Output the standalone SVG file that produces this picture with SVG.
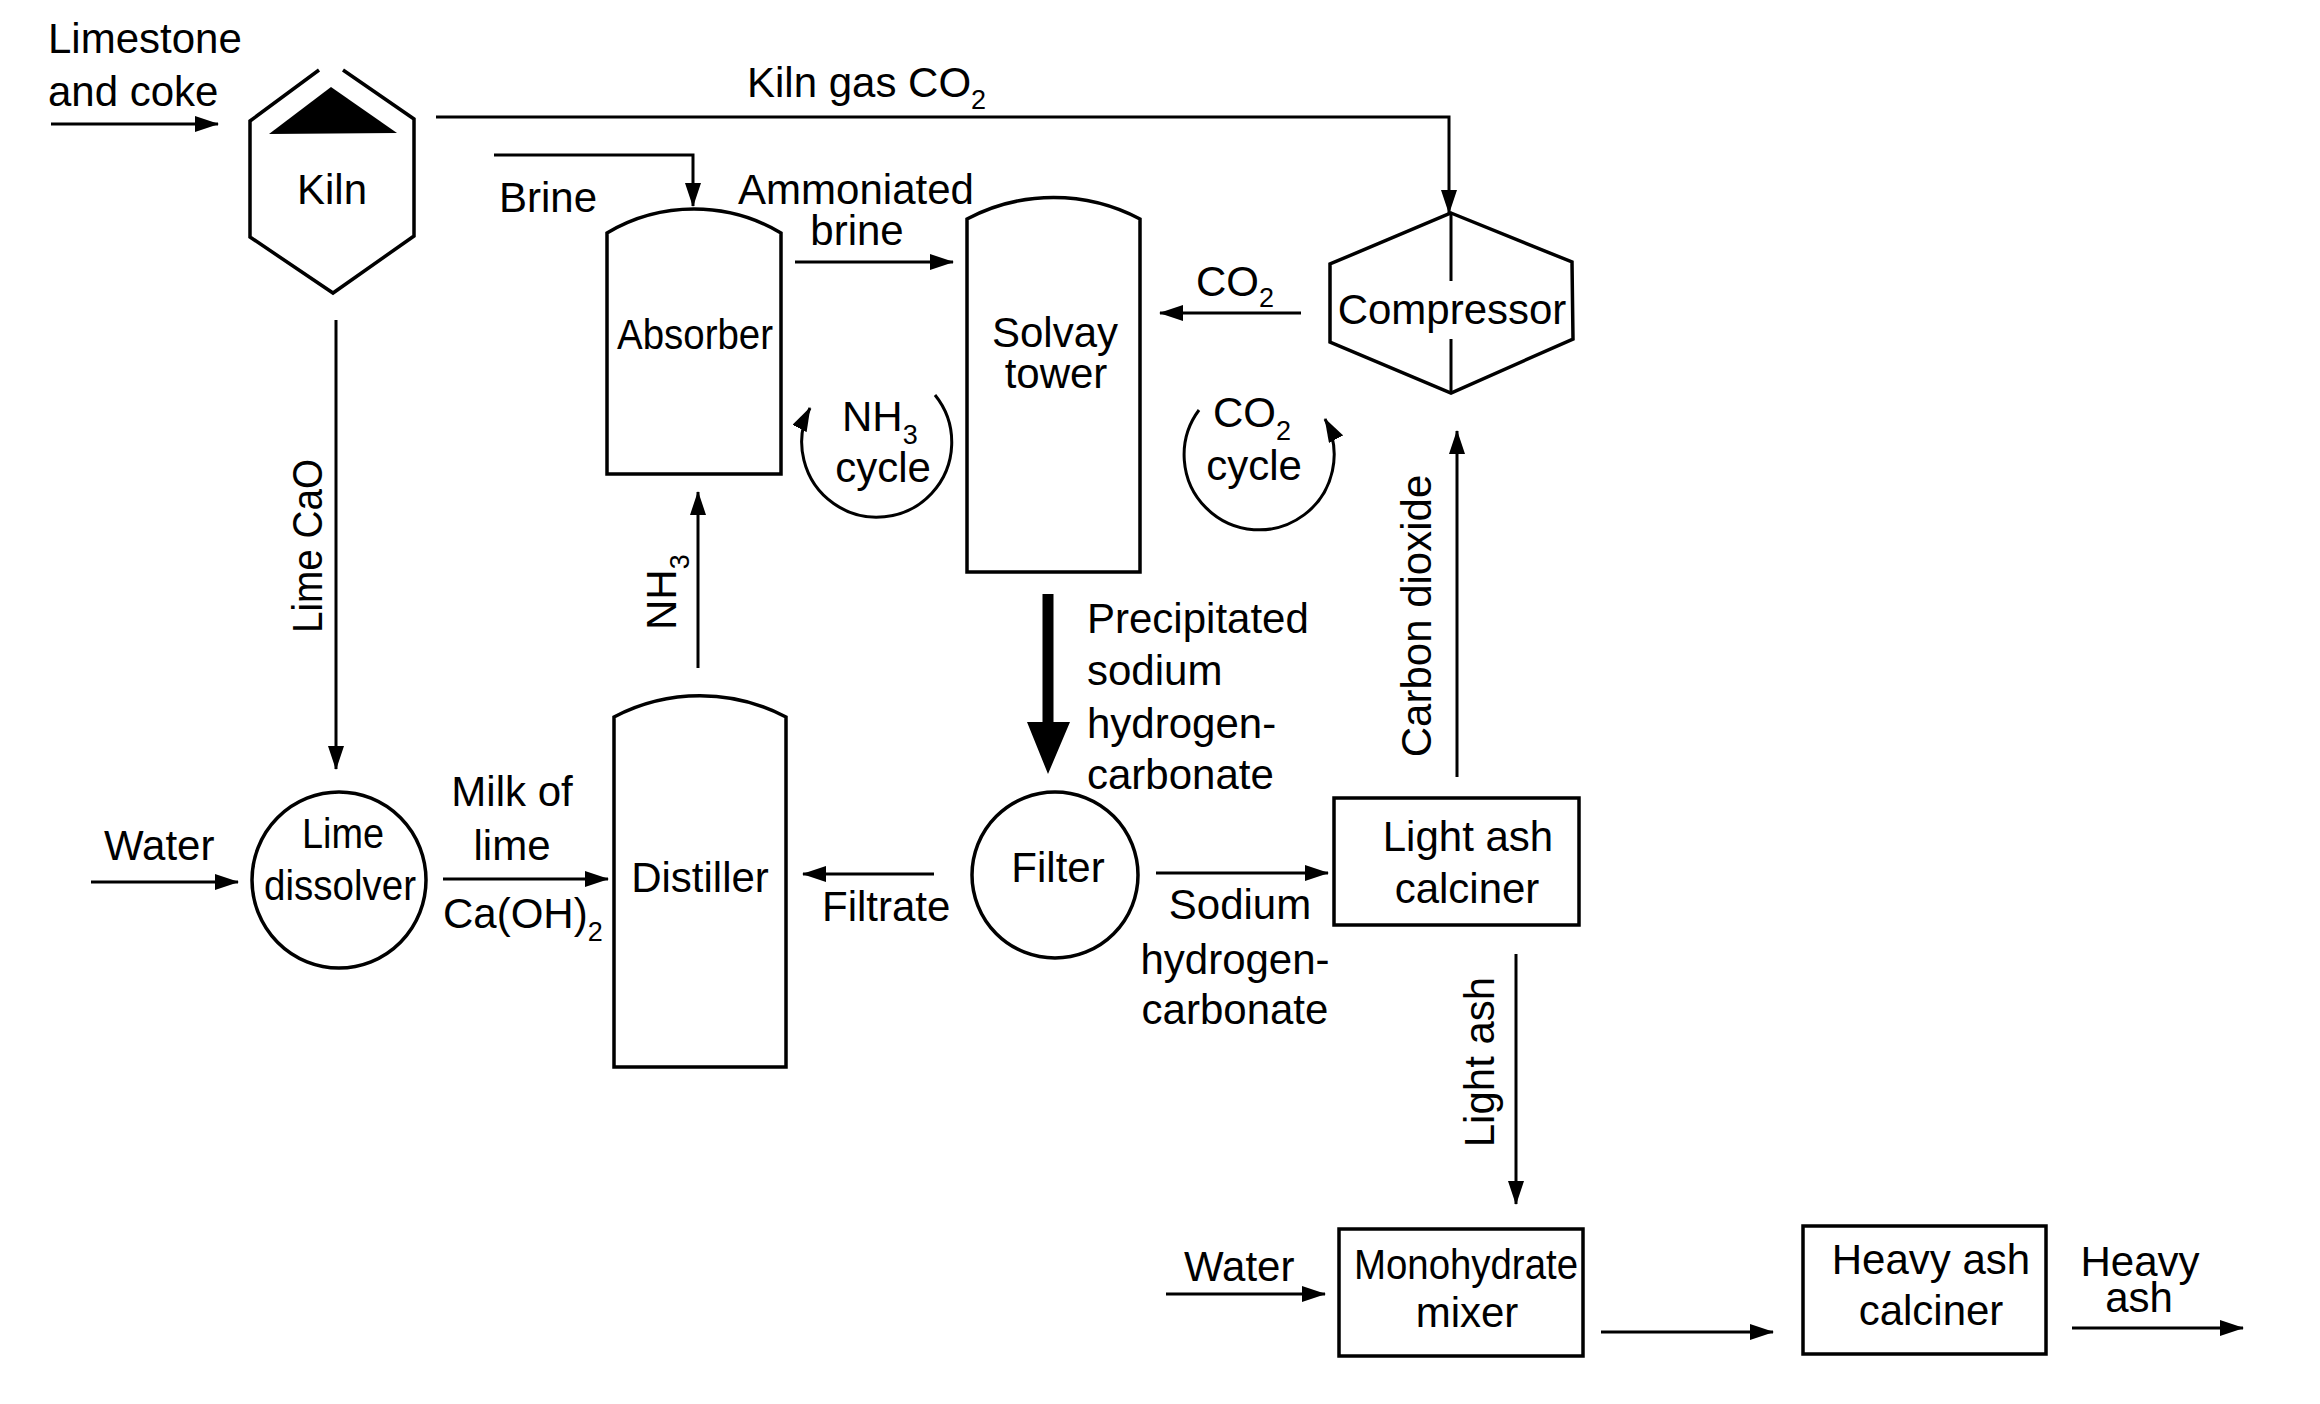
<svg xmlns="http://www.w3.org/2000/svg" width="2320" height="1404" viewBox="0 0 2320 1404">
<style>
text{font-family:"Liberation Sans",Arial,sans-serif;font-size:42px;fill:#000}
.m{text-anchor:middle}
.node{fill:#fff;stroke:#000;stroke-width:3.5;stroke-linejoin:miter}
.ln{fill:none;stroke:#000;stroke-width:3}
.sub{font-size:27px}
</style>
<defs>
<marker id="ah" markerUnits="userSpaceOnUse" markerWidth="24" markerHeight="16" refX="23" refY="8" orient="auto">
<path d="M0,0 L24,8 L0,16 Z" fill="#000"/>
</marker>
</defs>
<rect width="2320" height="1404" fill="#fff"/>

<g id="kiln">
<path class="node" d="M319,70 L250,121 L250,237 L333,293 L414,236 L414,119 L343,70"/>
<polygon points="331,87 269,134 397,133" fill="#000"/>
<text class="m" x="332" y="204">Kiln</text>
</g>

<g id="absorber">
<path class="node" d="M607,474 L607,233 A170,170 0 0 1 781,233 L781,474 Z"/>
<text class="m" x="695" y="349" textLength="156" lengthAdjust="spacingAndGlyphs">Absorber</text>
</g>

<g id="solvay-tower">
<path class="node" d="M967,572 L967,219 A185,185 0 0 1 1140,219 L1140,572 Z"/>
<text class="m" x="1055" y="347">Solvay</text>
<text class="m" x="1056" y="388">tower</text>
</g>

<g id="compressor">
<polygon class="node" points="1451,213 1572,262 1573,339 1451,393 1330,342 1330,264"/>
<path class="ln" d="M1451,213 V281 M1451,339 V393"/>
<text class="m" x="1452" y="324">Compressor</text>
</g>

<g id="lime-dissolver">
<ellipse class="node" cx="339" cy="880" rx="87" ry="88"/>
<text class="m" x="343" y="848" textLength="82" lengthAdjust="spacingAndGlyphs">Lime</text>
<text class="m" x="340" y="900" textLength="152" lengthAdjust="spacingAndGlyphs">dissolver</text>
</g>

<g id="distiller">
<path class="node" d="M614,1067 L614,717 A185,185 0 0 1 786,717 L786,1067 Z"/>
<text class="m" x="700" y="892">Distiller</text>
</g>

<g id="filter">
<circle class="node" cx="1055" cy="875" r="83"/>
<text class="m" x="1058" y="882">Filter</text>
</g>

<g id="light-ash-calciner">
<rect class="node" x="1334" y="798" width="245" height="127"/>
<text class="m" x="1468" y="851">Light ash</text>
<text class="m" x="1467" y="903">calciner</text>
</g>

<g id="monohydrate-mixer">
<rect class="node" x="1339" y="1229" width="244" height="127"/>
<text class="m" x="1466" y="1279" textLength="224" lengthAdjust="spacingAndGlyphs">Monohydrate</text>
<text class="m" x="1467" y="1327">mixer</text>
</g>

<g id="heavy-ash-calciner">
<rect class="node" x="1803" y="1226" width="243" height="128"/>
<text class="m" x="1931" y="1274">Heavy ash</text>
<text class="m" x="1931" y="1325">calciner</text>
</g>

<g id="connectors">
<path class="ln" marker-end="url(#ah)" d="M51,124 H218"/>
<path class="ln" marker-end="url(#ah)" d="M436,117 H1449 V213"/>
<path class="ln" marker-end="url(#ah)" d="M494,155 H693 V206"/>
<path class="ln" marker-end="url(#ah)" d="M795,262 H953"/>
<path class="ln" marker-end="url(#ah)" d="M1301,313 H1160"/>
<path class="ln" marker-end="url(#ah)" d="M336,320 V769"/>
<path class="ln" marker-end="url(#ah)" d="M698,668 V492"/>
<path d="M1042.5,594 H1053.5 V722 H1070 L1048,774 L1027,722 H1042.5 Z" fill="#000"/>
<path class="ln" marker-end="url(#ah)" d="M1457,777 V431"/>
<path class="ln" marker-end="url(#ah)" d="M91,882 H238"/>
<path class="ln" marker-end="url(#ah)" d="M443,879 H608"/>
<path class="ln" marker-end="url(#ah)" d="M934,874 H803"/>
<path class="ln" marker-end="url(#ah)" d="M1156,873 H1328"/>
<path class="ln" marker-end="url(#ah)" d="M1516,954 V1204"/>
<path class="ln" marker-end="url(#ah)" d="M1166,1294 H1325"/>
<path class="ln" marker-end="url(#ah)" d="M1601,1332 H1773"/>
<path class="ln" marker-end="url(#ah)" d="M2072,1328 H2243"/>
<path class="ln" marker-end="url(#ah)" d="M935,395 A75,75 0 1 1 810,408"/>
<path class="ln" marker-end="url(#ah)" d="M1199,410 A75,75 0 1 0 1325,419"/>
</g>

<g id="labels">
<text x="48" y="53">Limestone</text>
<text x="48" y="106">and coke</text>
<text x="747" y="97">Kiln gas CO<tspan class="sub" dy="12">2</tspan></text>
<text x="499" y="212">Brine</text>
<text class="m" x="856" y="204">Ammoniated</text>
<text class="m" x="857" y="245">brine</text>
<text x="1196" y="296">CO<tspan class="sub" dy="11">2</tspan></text>
<text x="842" y="431">NH<tspan class="sub" dy="13">3</tspan></text>
<text class="m" x="883" y="482">cycle</text>
<text x="1213" y="427">CO<tspan class="sub" dy="13">2</tspan></text>
<text class="m" x="1254" y="480">cycle</text>
<text class="m" transform="translate(322,546) rotate(-90)" textLength="174" lengthAdjust="spacingAndGlyphs">Lime CaO</text>
<text transform="translate(676,630) rotate(-90)">NH<tspan class="sub" dy="13">3</tspan></text>
<text x="1087" y="633">Precipitated</text>
<text x="1087" y="685">sodium</text>
<text x="1087" y="738">hydrogen-</text>
<text x="1087" y="789">carbonate</text>
<text class="m" transform="translate(1431,616) rotate(-90)">Carbon dioxide</text>
<text x="104" y="860">Water</text>
<text class="m" x="512" y="806">Milk of</text>
<text class="m" x="512" y="860">lime</text>
<text x="443" y="928">Ca(OH)<tspan class="sub" dy="13">2</tspan></text>
<text x="822" y="921">Filtrate</text>
<text class="m" x="1240" y="919">Sodium</text>
<text class="m" x="1235" y="974">hydrogen-</text>
<text class="m" x="1235" y="1024">carbonate</text>
<text class="m" transform="translate(1494,1062) rotate(-90)">Light ash</text>
<text x="1184" y="1281">Water</text>
<text class="m" x="2140" y="1276">Heavy</text>
<text class="m" x="2139" y="1312">ash</text>
</g>
</svg>
